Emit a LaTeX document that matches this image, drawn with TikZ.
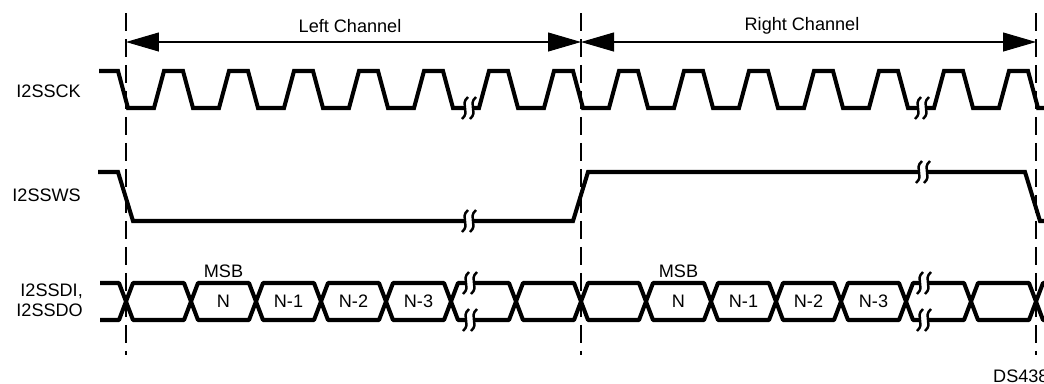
\documentclass[tikz,border=0pt]{standalone}
\usepackage{fontspec}
\setmainfont{Liberation Sans}
\usetikzlibrary{arrows.meta,positioning}

\newcommand{\quebra}[2]{%
	\fill[white] (#1,#2-6) rectangle (#1+8,#2+6);
	\draw[onda] (#1+3,#2-11) .. controls (#1-6,#2-3) and (#1+6,#2+3) .. (#1-3,#2+11);
	\draw[onda] (#1+11,#2-11) .. controls (#1+2,#2-3) and (#1+14,#2+3) .. (#1+5,#2+11);
}

\begin{document}
\begin{tikzpicture}[
	x=0.02cm, y=-0.02cm,
	font=\fontsize{10.3}{11.5}\selectfont,
	>={Triangle[length=0.66cm,width=0.38cm]},
	sinal/.style={line width=2.3pt},
	dado/.style={line width=2.3pt, line join=round},
	guia/.style={line width=1.1pt, dash pattern=on 0.36cm off 0.16cm},
	canal/.style={<->, line width=0.6pt},
	onda/.style={line width=1.4pt},
]
\useasboundingbox (0,0) rectangle (1044,383);
\foreach \n/\x in {a/126,b/581,c/1036} {
	\coordinate (\n0) at (\x,13);
	\coordinate (\n1) at (\x,42);
	\coordinate (\n2) at (\x,355);
	\draw[guia] (\n0)--(\n2);
}
\draw[canal] (a1)--(b1); \draw[canal] (b1)--(c1);
\node (esq) at (350,26) {Left Channel};
\node (dir) at (802,26) {Right Channel};
\draw[sinal] (99,71) \foreach \k in {0,...,13} {--({118+65*\k},71)--({128+65*\k},108)--({154+65*\k},108)--({164+65*\k},71)} --(1028,71)--(1038,108)--(1050,108);
\quebra{465}{108} \quebra{918}{108}
\draw[sinal] (98,172)--(118,172)--(133,221)--(573,221)--(588,172)--(1025,172)--(1040,221)--(1050,221);
\quebra{465}{221} \quebra{919}{172}
\draw[dado] (100,283)--(119,283)--(126,301.5)--(119,320)--(100,320);
\foreach \k in {0,...,13}
	\draw[dado] ({126+65*\k},301.5)--({133+65*\k},283)--({184+65*\k},283)--({191+65*\k},301.5)--({184+65*\k},320)--({133+65*\k},320)--cycle;
\draw[dado] (1050,283)--(1043,283)--(1036,301.5)--(1043,320)--(1050,320);
\quebra{466}{283} \quebra{466}{320} \quebra{920}{283} \quebra{920}{320}
\foreach \k/\t in {1/N,2/N-1,3/N-2,4/N-3,8/N,9/N-1,10/N-2,11/N-3}
	\node (d\k) at ({158.5+65*\k},301.5) {\t};
\node (msb1) [above=1mm of d1] {MSB};
\node (msb8) [above=1mm of d8] {MSB};
\coordinate (ck) at (99,91);
\node (lck) [left=0.24cm of ck] {I2SSCK};
\coordinate (ws) at (98,195.5);
\node (lws) [left=0.22cm of ws] {I2SSWS};
\coordinate (sd) at (100,300);
\node (lsd) [left=0.22cm of sd, align=right] {I2SSDI,\\I2SSDO};
\node (ds) [anchor=west] at (987,376) {DS438};
\end{tikzpicture}
\end{document}
